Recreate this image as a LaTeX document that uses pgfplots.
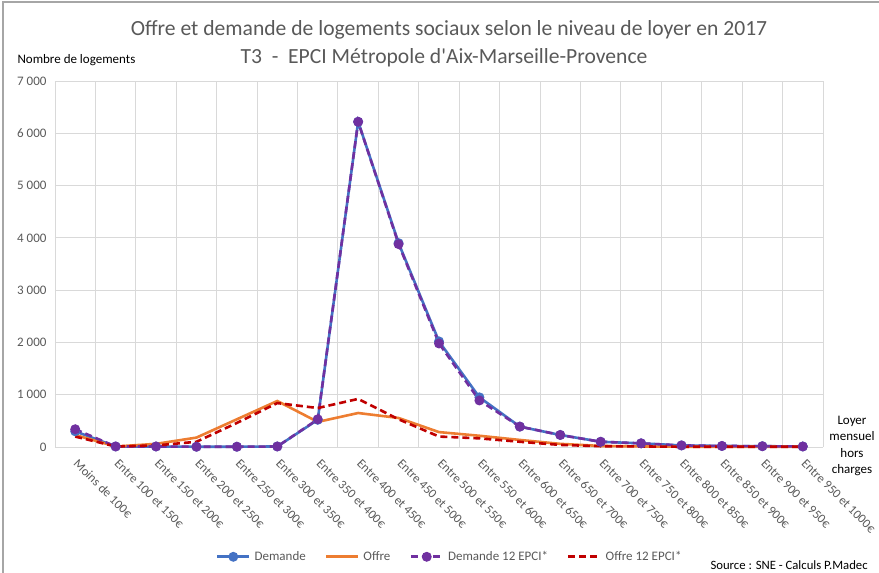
\documentclass[border=0pt]{standalone}
\usepackage{fontspec}
\setmainfont{Carlito}
\usepackage{pgfplots}
\pgfplotsset{compat=1.18}
\definecolor{cDem}{HTML}{4472C4}
\definecolor{cOff}{HTML}{ED7D31}
\definecolor{cDemA}{HTML}{7030A0}
\definecolor{cOffA}{HTML}{C00000}
\definecolor{txt}{HTML}{595959}
\definecolor{grd}{HTML}{D9D9D9}
\newcommand{\ks}{\hspace{0.23em}}
\begin{document}
\begin{tikzpicture}
\path[use as bounding box] (0pt,0pt) rectangle (879pt,573pt);
\draw[gray!70, line width=1.2pt] (3pt,0pt) -- (3pt,571pt) -- (879pt,571pt);
\node[font=\fontsize{21.6}{25}\selectfont, text=txt] at (449pt,543pt) {Offre et demande de logements sociaux selon le niveau de loyer en 2017};
\node[font=\fontsize{21.6}{25}\selectfont, text=txt] at (444pt,515pt) {T3~~-~~EPCI Métropole d\textquotesingle Aix-Marseille-Provence};
\node[anchor=west, font=\fontsize{13}{15}\selectfont] at (14pt,513pt) {Nombre de logements};
\node[align=center, font=\fontsize{13}{16.5}\selectfont] at (852pt,127pt) {Loyer\\mensuel\\hors\\charges};
\node[anchor=west, font=\fontsize{12.7}{15}\selectfont] at (707pt,8pt) {Source : SNE - Calculs P.Madec};
\begin{axis}[
  at={(55pt,126pt)}, anchor=south west, scale only axis,
  width=768pt, height=366pt,
  xmin=-0.5, xmax=18.5, ymin=0, ymax=7000,
  axis line style={draw=none},
  major tick length=0pt, minor tick length=0pt,
  xtick={0,...,18},
  minor xtick={-0.5,0.5,...,18.5},
  xminorgrids=true, xmajorgrids=false, ymajorgrids=true,
  grid style={draw=grd, line width=0.9pt},
  minor grid style={draw=grd, line width=0.9pt},
  ytick={0,1000,...,7000},
  yticklabels={0,1\ks000,2\ks000,3\ks000,4\ks000,5\ks000,6\ks000,7\ks000},
  yticklabel style={font=\fontsize{13}{15}\selectfont, text=txt, xshift=-5pt},
  xticklabels={Moins de 100€,Entre 100 et 150€,Entre 150 et 200€,Entre 200 et 250€,Entre 250 et 300€,Entre 300 et 350€,Entre 350 et 400€,Entre 400 et 450€,Entre 450 et 500€,Entre 500 et 550€,Entre 550 et 600€,Entre 600 et 650€,Entre 650 et 700€,Entre 700 et 750€,Entre 750 et 800€,Entre 800 et 850€,Entre 850 et 900€,Entre 900 et 950€,Entre 950 et 1000€},
  xticklabel style={font=\fontsize{12.7}{14}\selectfont, text=txt, inner sep=0pt, xshift=4pt, yshift=-11pt, rotate=-45, anchor=north west},
  legend columns=4,
  legend style={at={(0.514,-0.30)}, anchor=center, draw=none, fill=none,
    font=\fontsize{13}{15}\selectfont, text=txt,
    /tikz/every odd column/.append style={column sep=2pt},
    /tikz/every even column/.append style={column sep=17pt}},
  legend image code/.code={\draw[mark repeat=2,mark phase=2,#1] plot coordinates {(0pt,0pt) (16pt,0pt) (32pt,0pt)};},
  clip=false,
]
\addplot[cDem, line width=2.6pt, mark=*, mark size=3.6pt, mark options={solid}] coordinates {
(0,300)(1,10)(2,10)(3,5)(4,5)(5,10)(6,520)(7,6220)(8,3900)(9,2020)(10,950)(11,390)(12,230)(13,100)(14,70)(15,30)(16,20)(17,15)(18,10)};
\addlegendentry{Demande}
\addplot[cOff, line width=2.6pt, mark=none] coordinates {
(0,230)(1,10)(2,60)(3,180)(4,530)(5,880)(6,480)(7,650)(8,555)(9,285)(10,215)(11,135)(12,60)(13,20)(14,10)(15,5)(16,5)(17,5)(18,5)};
\addlegendentry{Offre}
\addplot[cDemA, line width=2.6pt, dash pattern=on 7pt off 4pt, mark=*, mark size=3.6pt, mark options={solid}] coordinates {
(0,340)(1,10)(2,10)(3,5)(4,5)(5,10)(6,530)(7,6220)(8,3880)(9,1980)(10,890)(11,390)(12,230)(13,100)(14,70)(15,30)(16,20)(17,15)(18,10)};
\addlegendentry{Demande 12 EPCI*}
\addplot[cOffA, line width=2.6pt, dash pattern=on 7pt off 4pt, mark=none] coordinates {
(0,200)(1,10)(2,30)(3,100)(4,460)(5,840)(6,745)(7,920)(8,530)(9,200)(10,165)(11,100)(12,40)(13,15)(14,10)(15,5)(16,5)(17,5)(18,5)};
\addlegendentry{Offre 12 EPCI*}
\end{axis}
\end{tikzpicture}
\end{document}
